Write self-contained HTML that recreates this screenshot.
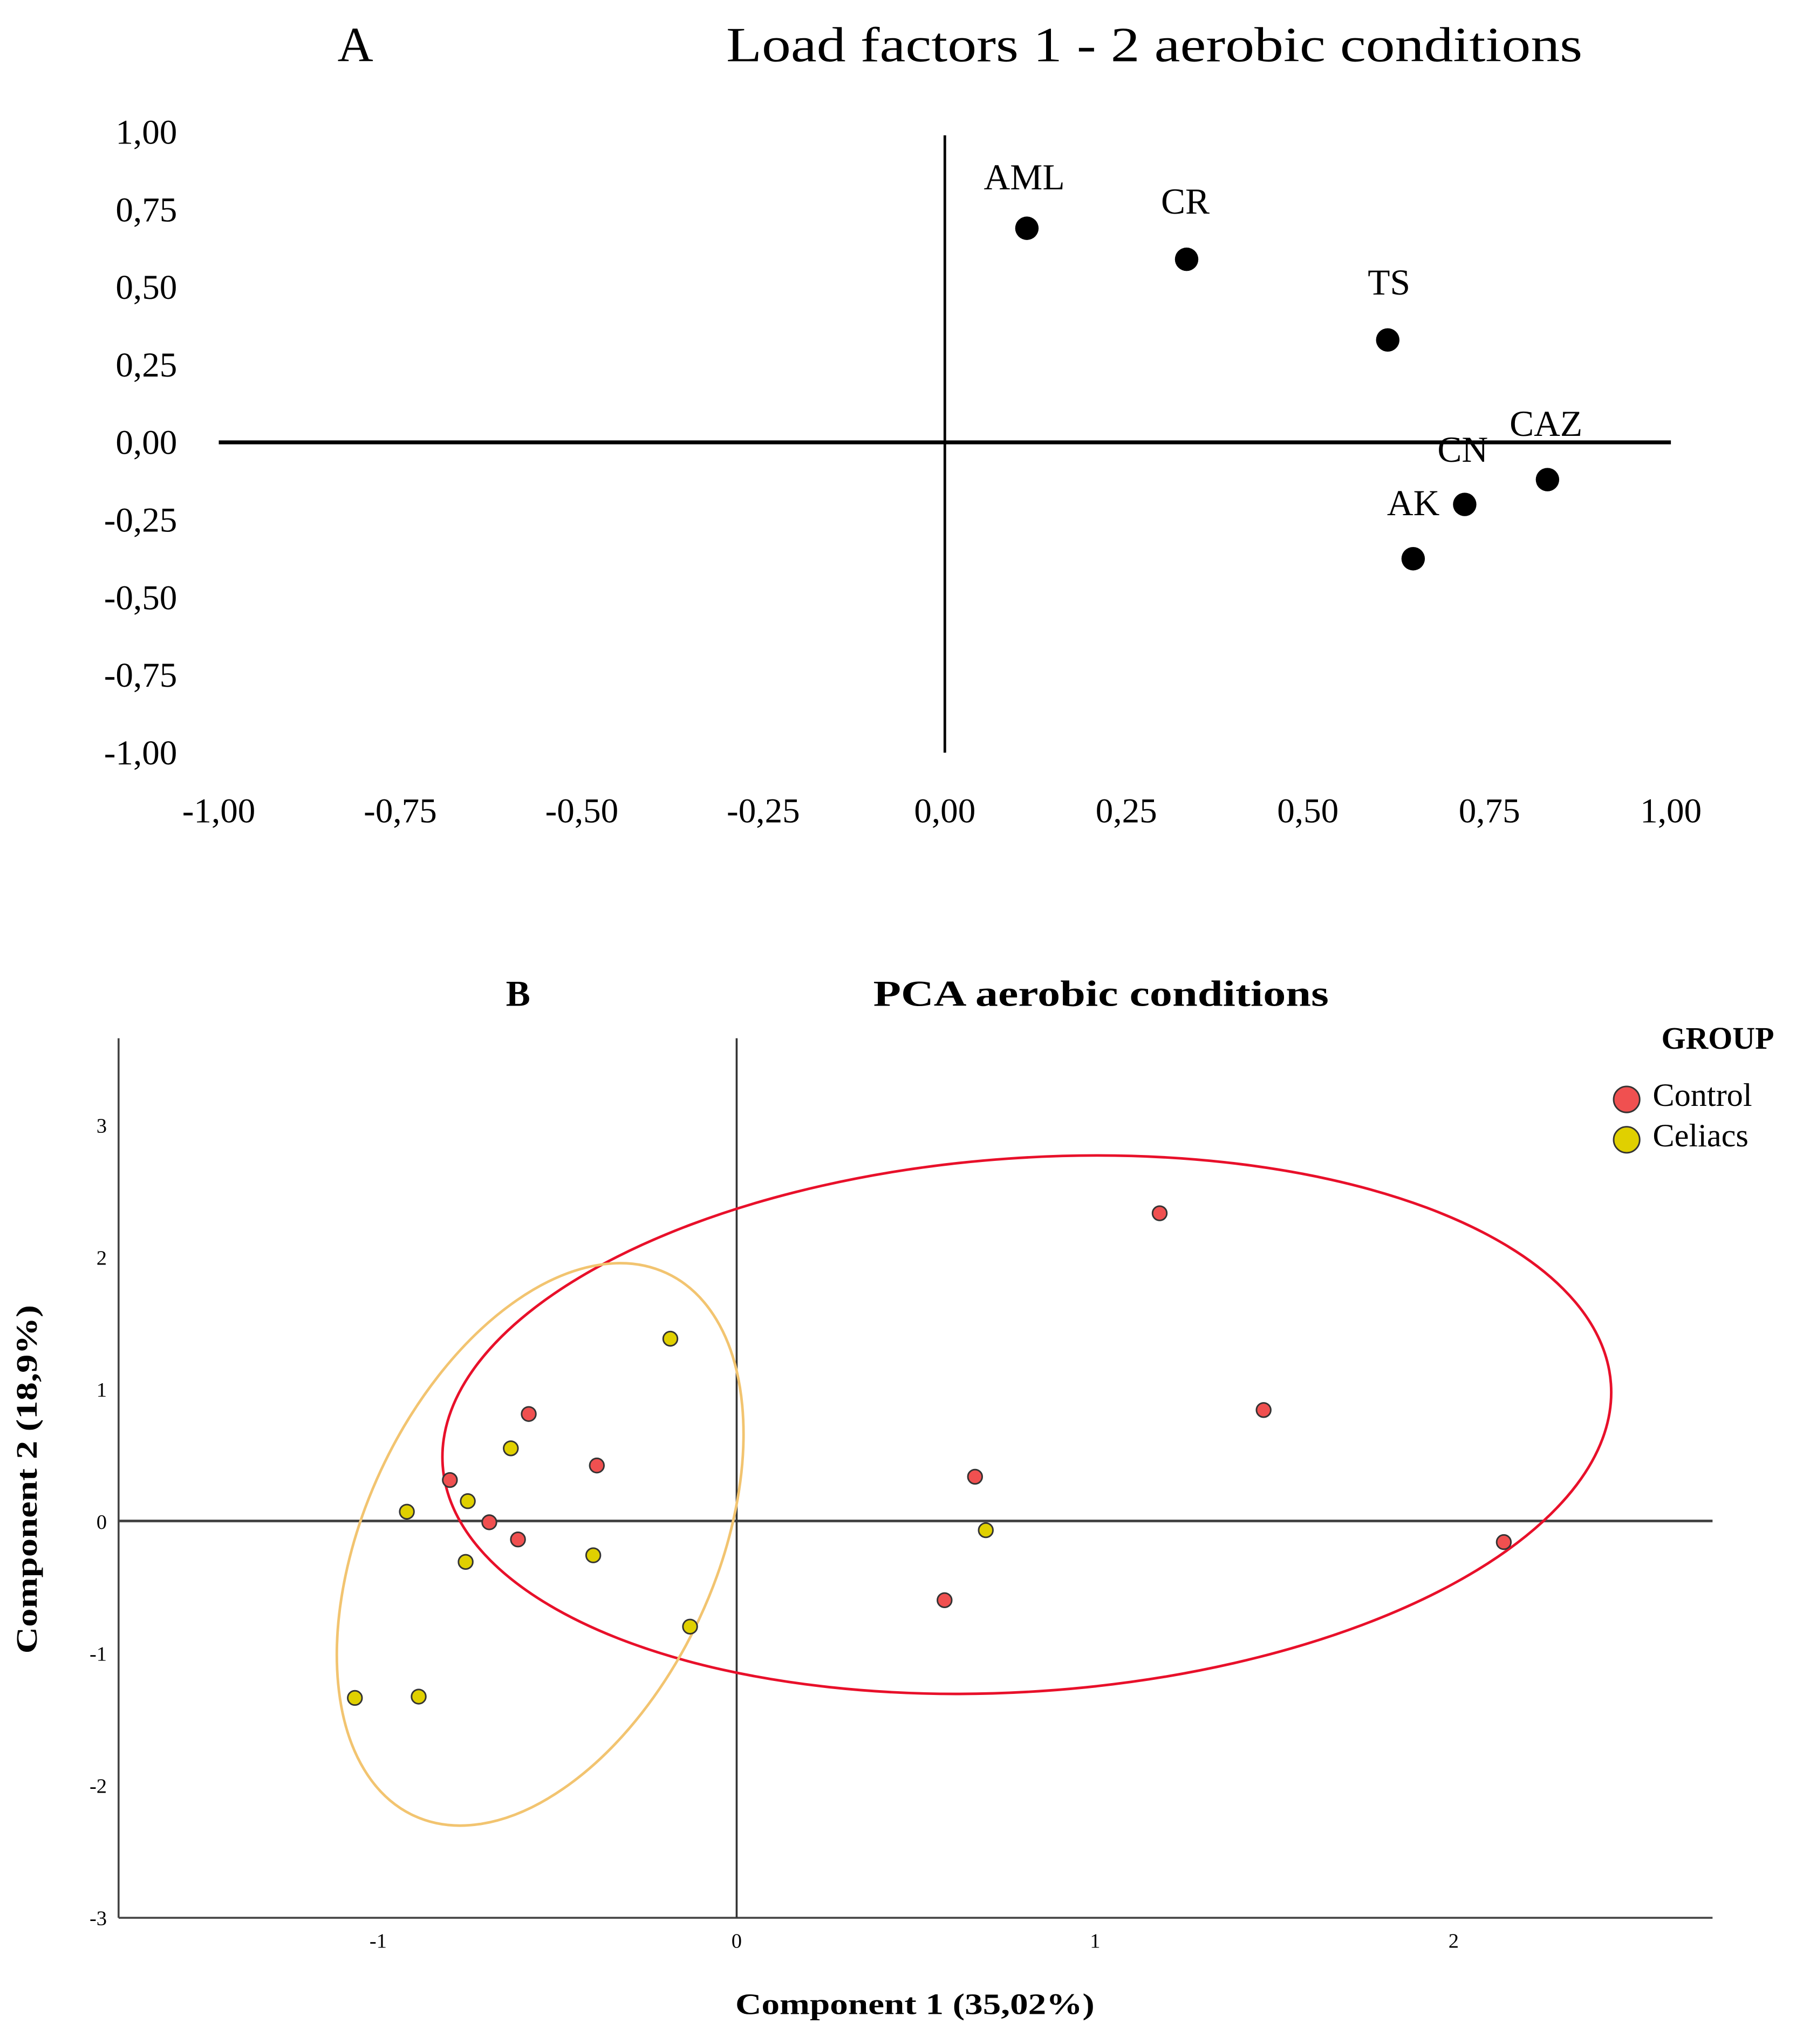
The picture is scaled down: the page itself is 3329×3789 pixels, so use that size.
<!DOCTYPE html>
<html><head><meta charset="utf-8"><style>
html,body{margin:0;padding:0;background:#fff;}
svg{display:block;font-family:"Liberation Serif",serif;}
</style></head><body>
<svg id="fig" width="3329" height="3789" viewBox="0 0 1380 1571" xmlns="http://www.w3.org/2000/svg">
<rect width="1380" height="1571" fill="#fff"/>
<g id="chartA"></g>
<g id="chartB"></g>
</svg>
<script>
// ---- Chart A data ----
const loadNames = ["AML","CR","TS","CAZ","CN","AK"];
const loadF1 = [0.113,0.333,0.61,0.83,0.716,0.645];
const loadF2 = [0.69,0.59,0.33,-0.12,-0.20,-0.375];
const loadTicks = [-1,-0.75,-0.5,-0.25,0,0.25,0.5,0.75,1];
const loadTickLabels = ["-1,00","-0,75","-0,50","-0,25","0,00","0,25","0,50","0,75","1,00"];
// ---- Chart B data ----
const ctrlX = [1.18,1.47,0.665,2.14,0.58,-0.58,-0.39,-0.80,-0.69,-0.61];
const ctrlY = [2.33,0.84,0.335,-0.16,-0.60,0.81,0.42,0.31,-0.01,-0.14];
const celX = [-0.185,-0.63,-0.92,-0.75,-0.756,-0.40,-0.13,-1.065,-0.887,0.695];
const celY = [1.38,0.55,0.07,0.15,-0.31,-0.26,-0.80,-1.34,-1.33,-0.07];
const pcaXTicks = [-1,0,1,2];
const pcaYTicks = [-3,-2,-1,0,1,2,3];

const NS="http://www.w3.org/2000/svg";
function mk(parent,tag,attrs,text){const e=document.createElementNS(NS,tag);for(const k in attrs)e.setAttribute(k,attrs[k]);if(text!==undefined)e.textContent=text;parent.appendChild(e);return e;}

// Chart A
const A=document.getElementById('chartA');
const ax=v=>726+v*558, ay=v=>340-v*238.5;
let t;
t=mk(A,'text',{x:273,y:47,'font-size':38,'text-anchor':'middle'},'A');


t=mk(A,'text',{x:887,y:47,'font-size':38,'text-anchor':'middle',textLength:658,lengthAdjust:'spacingAndGlyphs'},'Load factors 1 - 2 aerobic conditions');


t=mk(A,'line',{x1:ax(-1),x2:ax(1),y1:ay(0),y2:ay(0),stroke:'#000','stroke-width':3});


t=mk(A,'line',{x1:ax(0),x2:ax(0),y1:104,y2:ay(-1),stroke:'#000','stroke-width':2});


loadTicks.forEach((v,i)=>{
  let e=mk(A,'text',{x:136,y:ay(v)+9,'font-size':27,'text-anchor':'end'},loadTickLabels[i]);
  
  
  e=mk(A,'text',{x:ax(v),y:632,'font-size':27,'text-anchor':'middle'},loadTickLabels[i]);
  
  
});
const labOff={AML:[-2,-30],CR:[-1,-35],TS:[1,-35],CAZ:[0,-35],CN:[0,-33],AK:[0,-34]};
loadNames.forEach((n,i)=>{
  let e=mk(A,'circle',{cx:ax(loadF1[i]),cy:ay(loadF2[i]),r:9,fill:'#000'});
  
  
  let lx=ax(loadF1[i])+labOff[n][0], ly=ay(loadF2[i])+labOff[n][1];
  if(n==='AK'){lx=1086;ly=396;}
  if(n==='CN'){lx=1124;ly=355;}
  if(n==='CAZ'){lx=1188;ly=335;}
  e=mk(A,'text',{x:lx,y:ly,'font-size':28,'text-anchor':'middle'},n);
  
  
});

// Chart B
const B=document.getElementById('chartB');
const bx=v=>566+v*275.5, by=v=>1169-v*101.5;
t=mk(B,'text',{x:398,y:773,'font-size':28,'font-weight':'bold','text-anchor':'middle'},'B');


t=mk(B,'text',{x:846,y:773,'font-size':28,'font-weight':'bold','text-anchor':'middle',textLength:350,lengthAdjust:'spacingAndGlyphs'},'PCA aerobic conditions');


t=mk(B,'line',{x1:91,x2:91,y1:798,y2:1474,stroke:'#444','stroke-width':1.5});


t=mk(B,'line',{x1:91,x2:1316,y1:1474,y2:1474,stroke:'#444','stroke-width':1.5});


t=mk(B,'line',{x1:91,x2:1316,y1:by(0),y2:by(0),stroke:'#444','stroke-width':2});


t=mk(B,'line',{x1:bx(0),x2:bx(0),y1:798,y2:1474,stroke:'#333','stroke-width':1.5});


pcaXTicks.forEach(v=>{
  const e=mk(B,'text',{x:bx(v),y:1497,'font-size':16,'text-anchor':'middle'},String(v));
  
  
});
pcaYTicks.forEach(v=>{
  const e=mk(B,'text',{x:82,y:by(v)+6,'font-size':16,'text-anchor':'end'},String(v));
  
  
});
t=mk(B,'text',{x:703,y:1548,'font-size':23,'font-weight':'bold','text-anchor':'middle',textLength:276,lengthAdjust:'spacingAndGlyphs'},'Component 1 (35,02%)');


t=mk(B,'text',{x:0,y:0,'font-size':23,'font-weight':'bold','text-anchor':'middle',transform:'translate(28,1137) rotate(-90)',textLength:268,lengthAdjust:'spacingAndGlyphs'},'Component 2 (18,9%)');


t=mk(B,'ellipse',{cx:0,cy:0,rx:450,ry:205,fill:'none',stroke:'#e8102a','stroke-width':2,transform:'translate(789,1095) rotate(-4)'});


t=mk(B,'ellipse',{cx:0,cy:0,rx:135,ry:230,fill:'none',stroke:'#f2c470','stroke-width':2,transform:'translate(415,1187) rotate(25)'});


ctrlX.forEach((v,i)=>{
  const e=mk(B,'circle',{cx:bx(v),cy:by(ctrlY[i]),r:5.5,fill:'#f05050',stroke:'#333','stroke-width':1.2});
  
  
});
celX.forEach((v,i)=>{
  const e=mk(B,'circle',{cx:bx(v),cy:by(celY[i]),r:5.5,fill:'#e0d000',stroke:'#333','stroke-width':1.2});
  
  
});
t=mk(B,'text',{x:1320,y:806,'font-size':24,'font-weight':'bold','text-anchor':'middle'},'GROUP');


t=mk(B,'circle',{cx:1250,cy:845,r:10,fill:'#f05050',stroke:'#333','stroke-width':1.2});


t=mk(B,'text',{x:1270,y:850,'font-size':25},'Control');


t=mk(B,'circle',{cx:1250,cy:876,r:10,fill:'#e0d000',stroke:'#333','stroke-width':1.2});


t=mk(B,'text',{x:1270,y:881,'font-size':25},'Celiacs');


</script>
</body></html>
